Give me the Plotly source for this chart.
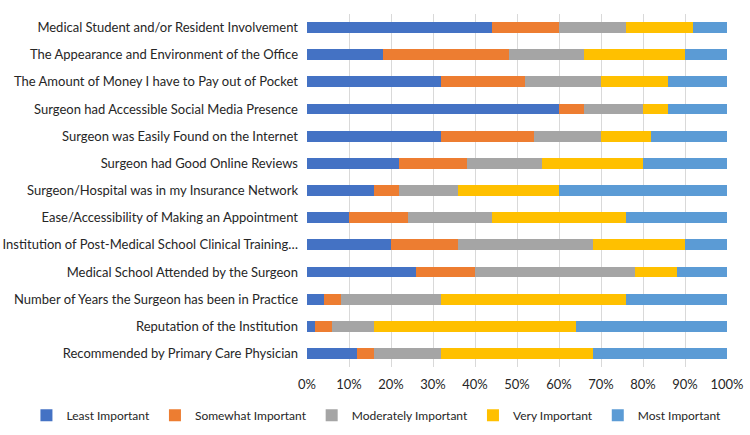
import plotly.graph_objects as go

categories = [
    "Medical Student and/or Resident Involvement",
    "The Appearance and Environment of the Office",
    "The Amount of Money I have to Pay out of Pocket",
    "Surgeon had Accessible Social Media Presence",
    "Surgeon was Easily Found on the Internet",
    "Surgeon had Good Online Reviews",
    "Surgeon/Hospital was in my Insurance Network",
    "Ease/Accessibility of Making an Appointment",
    "Institution of Post-Medical School Clinical Training…",
    "Medical School Attended by the Surgeon",
    "Number of Years the Surgeon has been in Practice",
    "Reputation of the Institution",
    "Recommended by Primary Care Physician",
]

least_important = [44, 18, 32, 60, 32, 22, 16, 10, 20, 26, 4, 2, 12]
somewhat_important = [16, 30, 20, 6, 22, 16, 6, 14, 16, 14, 4, 4, 4]
moderately_important = [16, 18, 18, 14, 16, 18, 14, 20, 32, 38, 24, 10, 16]
very_important = [16, 24, 16, 6, 12, 24, 24, 32, 22, 10, 44, 48, 36]
most_important = [8, 10, 14, 14, 18, 20, 40, 24, 10, 12, 24, 36, 32]

series_names = ["Least Important", "Somewhat Important", "Moderately Important",
                "Very Important", "Most Important"]
series_values = [least_important, somewhat_important, moderately_important,
                 very_important, most_important]
colors = ["#4472C4", "#ED7D31", "#A5A5A5", "#FFC000", "#5B9BD5"]

FONT = "Lato"

fig = go.Figure()
for name, vals, col in zip(series_names, series_values, colors):
    fig.add_trace(go.Bar(
        y=categories, x=vals, name=name, orientation="h",
        marker=dict(color=col, line=dict(width=0)),
    ))

fig.update_layout(
    width=750, height=435,
    barmode="stack",
    bargap=0.6,
    paper_bgcolor="white",
    plot_bgcolor="white",
    margin=dict(l=307, r=23, t=14, b=68, pad=0, autoexpand=False),
    font=dict(family=FONT, size=13, color="#262626"),
    xaxis=dict(
        range=[0, 100], dtick=10, ticksuffix="%",
        showgrid=True, gridcolor="#D9D9D9", gridwidth=1,
        zeroline=False, showline=False, automargin=False,
        tickfont=dict(size=13, color="#262626"),
        ticks="", ticklabelstandoff=8,
    ),
    yaxis=dict(
        categoryorder="array", categoryarray=categories,
        autorange="reversed", automargin=False,
        showgrid=False, zeroline=False, showline=False,
        tickfont=dict(size=13, color="#262626"),
        ticks="", ticklabelstandoff=8,
    ),
    legend=dict(
        orientation="h", xref="paper", yref="paper",
        x=-0.668, xanchor="left", y=-0.137, yanchor="middle",
        font=dict(size=12, color="#262626"),
        traceorder="normal",
        itemwidth=30,
    ),
    showlegend=True,
)

fig.write_html("out.html")
